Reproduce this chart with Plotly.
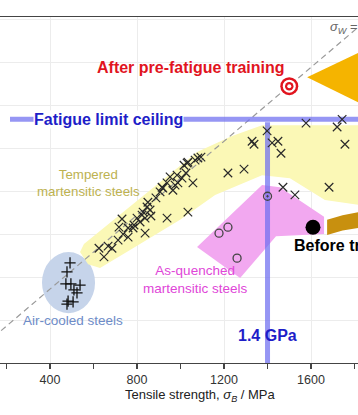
import plotly.graph_objects as go

# ---------------- data ----------------
tempered_sb = [625, 648, 667, 685, 713, 731, 736, 759, 717, 759, 786, 814, 837, 837, 828, 846, 850, 860,
               864, 887, 906, 915, 938, 952, 965, 984, 988, 1007, 1030, 1025, 1067, 1057, 1034, 938, 823,
               800, 782, 1016, 1034, 1080, 1094, 975, 919, 1218, 1292, 1329, 1338, 1398, 1421, 1448, 1462,
               1471, 1526, 1577, 1683, 1720, 1743, 1756]
tempered_sw = [267, 247, 272, 267, 286, 335, 300, 293, 316, 314, 321, 328, 337, 302, 351, 363, 374, 356,
               342, 384, 398, 409, 419, 433, 402, 437, 419, 430, 465, 442, 472, 419, 351, 337, 344,
               337, 314, 460, 467, 477, 479, 414, 407, 442, 451, 516, 509, 540, 512, 516, 488,
               409, 391, 558, 409, 549, 567, 509]

air_sb = [492, 478, 473, 496, 538, 510, 524, 483, 506, 478]
air_sw = [233, 212, 184, 184, 181, 170, 163, 144, 142, 137]

quenched_sb = [1218, 1177, 1260]
quenched_sw = [316, 302, 244]
quenched_dot_sb = [1400]
quenched_dot_sw = [388]

before_sb = [1609]
before_sw = [316]
after_sb = [1500]
after_sw = [644]

ratio = 0.43              # sigma_w = ratio * sigma_B
ceiling = 567             # fatigue limit ceiling (MPa)
ceiling_start = 216
gpa_line = 1400
gpa_line_top = 560

# region outlines (data coords)
yellow_sb = [538, 556, 1076, 1237, 1375, 1830, 1830, 1664, 1503, 1375, 1159, 998, 768, 630, 575]
yellow_sw = [258, 277, 491, 528, 553, 553, 367, 379, 430, 437, 391, 333, 263, 221, 230]
pink_sb = [1076, 1375, 1457, 1660, 1660, 1439, 1274]
pink_sw = [270, 414, 409, 340, 300, 295, 198]
gold_sb = [1674, 1745, 1816, 1880, 1880, 1816, 1745, 1674]
gold_sw = [333, 344, 351, 357, 320, 314, 308, 298]
tri_sb = [1582, 2000, 2000]
tri_sw = [665, 765, 561]
ellipse_center = (485, 187)
ellipse_radius = (122, 71)

x_range = [170, 1816]
y_range = [0, 805]

FONT = "Liberation Sans, Arial, sans-serif"
LINE_BLUE = "rgba(110,110,240,0.72)"
TEXT_BLUE = "#1e1ec8"

fig = go.Figure()

def poly(xs, ys, color):
    fig.add_trace(go.Scatter(x=xs + xs[:1], y=ys + ys[:1], mode="lines", fill="toself",
                             fillcolor=color, line=dict(width=0, color=color),
                             hoverinfo="skip", showlegend=False))

poly(yellow_sb, yellow_sw, "#fbf8b6")
poly(pink_sb, pink_sw, "#f2a8f0")
poly(gold_sb, gold_sw, "#c8900f")
poly(tri_sb, tri_sw, "#f5b400")

# dashed sigma_w = ratio*sigma_B line
fig.add_trace(go.Scatter(x=[0, 2000], y=[0, 2000 * ratio], mode="lines",
                         line=dict(color="#9a9a9a", width=1.2, dash="6px,4px"),
                         hoverinfo="skip", showlegend=False))

# ceiling and 1.4 GPa lines
fig.add_trace(go.Scatter(x=[ceiling_start, 1830], y=[ceiling, ceiling], mode="lines",
                         line=dict(color=LINE_BLUE, width=5), hoverinfo="skip", showlegend=False))
fig.add_trace(go.Scatter(x=[gpa_line, gpa_line], y=[0, gpa_line_top], mode="lines",
                         line=dict(color=LINE_BLUE, width=5), hoverinfo="skip", showlegend=False))

# markers
fig.add_trace(go.Scatter(x=tempered_sb, y=tempered_sw, mode="markers",
                         marker=dict(symbol="x-thin", size=8.5, color="#2a2a2a",
                                     line=dict(width=1.2, color="#2a2a2a")),
                         showlegend=False))
fig.add_trace(go.Scatter(x=air_sb, y=air_sw, mode="markers",
                         marker=dict(symbol="cross-thin", size=8, color="#111111",
                                     line=dict(width=1.3, color="#111111")),
                         showlegend=False))
fig.add_trace(go.Scatter(x=quenched_sb, y=quenched_sw, mode="markers",
                         marker=dict(symbol="circle-open", size=8, color="#444444",
                                     line=dict(width=1.3, color="#444444")),
                         showlegend=False))
fig.add_trace(go.Scatter(x=quenched_dot_sb, y=quenched_dot_sw, mode="markers",
                         marker=dict(symbol="circle-open-dot", size=8, color="#444444",
                                     line=dict(width=1.3, color="#444444")),
                         showlegend=False))
fig.add_trace(go.Scatter(x=before_sb, y=before_sw, mode="markers",
                         marker=dict(symbol="circle", size=15, color="#000000"), showlegend=False))
for s, c in [(18, "#e1141e"), (13, "#ffffff"), (8.5, "#e1141e"), (4, "#ffffff")]:
    fig.add_trace(go.Scatter(x=after_sb, y=after_sw, mode="markers",
                             marker=dict(symbol="circle", size=s, color=c, line=dict(width=0)),
                             showlegend=False))

# air-cooled ellipse
cx, cy = ellipse_center
rx, ry = ellipse_radius
fig.add_shape(type="circle", xref="x", yref="y", x0=cx - rx, x1=cx + rx, y0=cy - ry, y1=cy + ry,
              fillcolor="#c6d4ea", line=dict(width=0), layer="between")

def note(text, x, y, color, size, bold=False, xanchor="center", **kw):
    fig.add_annotation(x=x, y=y, text=f"<b>{text}</b>" if bold else text, showarrow=False,
                       font=dict(family=FONT, size=size, color=color), xanchor=xanchor,
                       yanchor="middle", **kw)

note("After pre-fatigue training", 1048, 688, "#e1141e", 16, bold=True)
note("Fatigue limit ceiling", 322, ceiling, TEXT_BLUE, 16, bold=True, xanchor="left",
     bgcolor="white", borderpad=0)
note("1.4 GPa", gpa_line, 65, TEXT_BLUE, 16, bold=True)
note("Before training", 1513, 274, "#000000", 16, bold=True, xanchor="left")
note("Tempered<br>martensitic steels", 575, 418, "#bdb250", 13.3)
note("As-quenched<br>martensitic steels", 1071, 195, "#e046d8", 13.5)
note("Air-cooled steels", 506, 98, "#6e8cc8", 13.5)

fig.add_annotation(xref="paper", yref="paper", x=328 / 358, y=(363 - 27) / 346,
                   text="<i>σ<sub>W</sub></i> = 0.43 <i>σ<sub>B</sub></i>", showarrow=False,
                   xanchor="left", yanchor="middle",
                   font=dict(family=FONT, size=13, color="#666666"))
fig.add_annotation(xref="paper", yref="paper", x=200 / 358, y=(363 - 395) / 346,
                   text="Tensile strength, <i>σ<sub>B</sub></i> / MPa", showarrow=False,
                   xanchor="center", yanchor="middle",
                   font=dict(family=FONT, size=13, color="#222222"))

fig.update_layout(
    width=358, height=415,
    margin=dict(l=0, r=0, t=17, b=52),
    plot_bgcolor="white", paper_bgcolor="white",
    font=dict(family=FONT, size=12, color="#333333"),
    showlegend=False,
    hovermode=False,
    xaxis=dict(range=x_range, tick0=0, dtick=400, showgrid=True, gridcolor="#ececec", gridwidth=1,
               zeroline=False, showline=True, linecolor="#444444", linewidth=1.2, mirror=True,
               ticks="outside", ticklen=5, tickcolor="#444444", tickwidth=1.2,
               tickfont=dict(family=FONT, size=12.5, color="#333333"),
               minor=dict(dtick=200, ticks="outside", ticklen=5, tickcolor="#444444", showgrid=False)),
    yaxis=dict(range=y_range, tick0=0, dtick=100, showgrid=True, gridcolor="#ececec", gridwidth=1,
               zeroline=False, showline=False, showticklabels=False, ticks=""),
)

fig.write_html("out.html", config={"displayModeBar": False, "staticPlot": True},
               post_script="document.body.style.margin='0';document.body.style.overflow='hidden';")
